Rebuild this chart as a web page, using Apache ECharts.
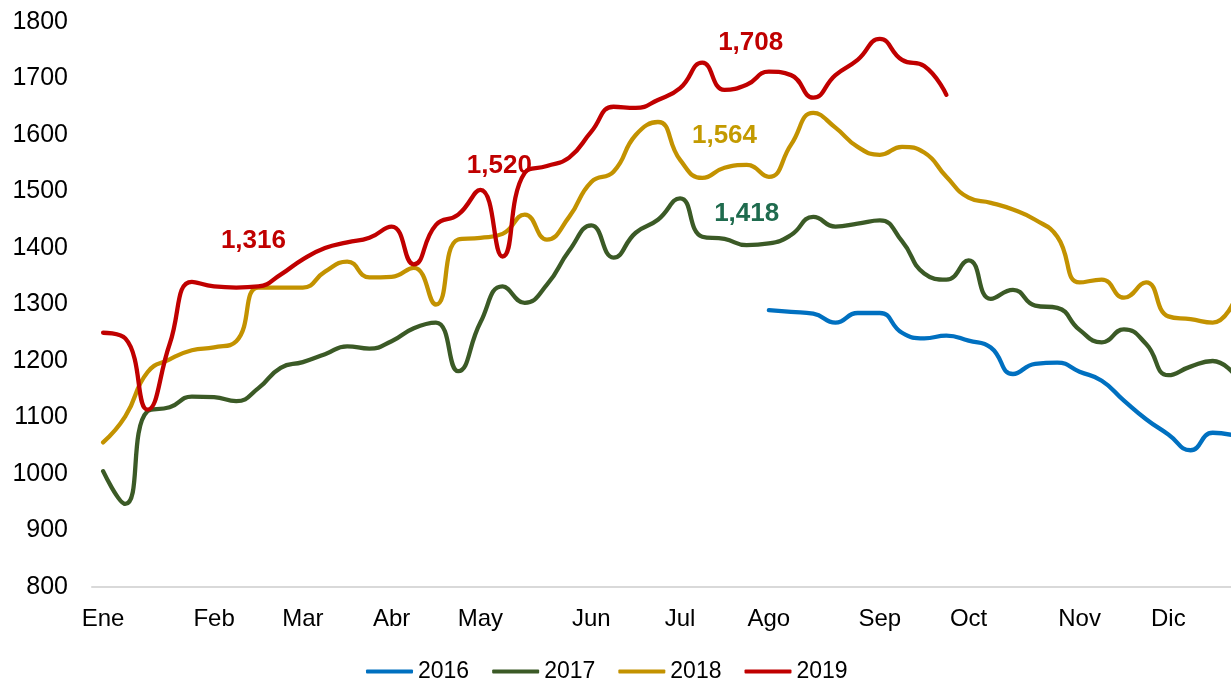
<!DOCTYPE html>
<html>
<head>
<meta charset="utf-8">
<script src="https://cdn.jsdelivr.net/npm/echarts@6/dist/echarts.min.js"></script>
<style>
  html, body { margin: 0; padding: 0; background: #fff; }
  #chart { width: 1231px; height: 681px; }
</style>
</head>
<body>
<div id="chart"></div>
<script>
// weekly categories, month name on the first week of each month
const weeks = [
  'Ene', '', '', '', '', 'Feb', '', '', '', 'Mar', '', '', '', 'Abr', '', '', '', 'May', '', '', '', '',
  'Jun', '', '', '', 'Jul', '', '', '', 'Ago', '', '', '', '', 'Sep', '', '', '', 'Oct', '', '', '', '',
  'Nov', '', '', '', 'Dic', '', '', ''
]

const y2016 = [
  null, null, null, null, null, null, null, null, null, null, null, null, null, null, null, null, null, null,
  null, null, null, null, null, null, null, null, null, null, null, null,
  1290, 1287, 1284, 1268, 1285, 1285, 1250, 1240, 1245, 1236, 1224, 1177, 1195, 1197, 1181, 1165, 1130,
  1097, 1070, 1042, 1073, 1068
]
const y2017 = [
  1005, 947, 1111, 1118, 1137, 1136, 1129, 1152, 1188, 1198, 1212, 1226, 1222, 1235, 1258, 1268, 1182,
  1268, 1332, 1303, 1335, 1395, 1440, 1383, 1427, 1450, 1488, 1420, 1416, 1405, 1408, 1423, 1455, 1438,
  1443, 1449, 1412, 1355, 1344, 1378, 1310, 1326, 1298, 1294, 1255, 1233, 1256, 1230, 1175, 1190, 1200, 1175
]
const y2018 = [
  1056, 1102, 1180, 1203, 1219, 1224, 1235, 1330, 1330, 1330, 1358, 1376, 1348, 1349, 1365, 1300, 1415,
  1418, 1425, 1459, 1415, 1455, 1517, 1535, 1600, 1623, 1556, 1524, 1542, 1547, 1526, 1583, 1639, 1613,
  1579, 1565, 1579, 1569, 1526, 1489, 1480, 1468, 1450, 1420, 1339, 1344, 1312, 1339, 1279, 1274, 1268, 1309
]
const y2019 = [
  1250, 1240, 1114, 1230, 1340, 1332, 1330, 1332, 1353, 1380, 1400, 1410, 1418, 1438, 1371, 1441, 1459,
  1503, 1385, 1533, 1545, 1560, 1606, 1650, 1648, 1662, 1683, 1728, 1680, 1689, 1712, 1706, 1666, 1706,
  1733, 1770, 1733, 1722, 1671
]

// annotations: [week index, text, offset]
const notes2017 = [[29, '1,418', [0, -31]]]
const notes2018 = [[28, '1,564', [0, -32]]]
const notes2019 = [[7, '1,316', [-5, -46]], [17, '1,520', [19, -24]], [29, '1,708', [4, -42]]]

const FONT = 'Liberation Sans, Arial, sans-serif'

function withNotes(values, notes, color) {
  return values.map((v, i) => {
    const n = notes.find(x => x[0] === i)
    if (!n) return v
    return {
      value: v,
      label: {
        show: true,
        position: 'inside',
        offset: n[2],
        formatter: () => n[1],
        color: color,
        fontFamily: FONT,
        fontSize: 26,
        fontWeight: 'bold',
      },
    }
  })
}

function lineSeries(name, data, color) {
  return {
    name,
    type: 'line',
    data,
    smooth: 0.5,
    symbol: 'circle',
    symbolSize: 0,
    showSymbol: true,
    connectNulls: false,
    lineStyle: { color, width: 4.3, cap: 'round', join: 'round' },
    itemStyle: { color },
    emphasis: { disabled: true },
  }
}

const chart = echarts.init(document.getElementById('chart'))
chart.setOption({
  animation: false,
  backgroundColor: '#fff',
  // plot runs past the right edge of the picture, as in the source
  grid: { left: 92, width: 1154, top: 22, bottom: 94, containLabel: false, outerBoundsMode: 'none' },
  legend: {
    left: 366,
    top: 660,
    padding: 0,
    icon: 'roundRect',
    itemWidth: 47,
    itemHeight: 4,
    itemGap: 23,
    textStyle: { fontFamily: FONT, fontSize: 23, color: '#000' },
    data: ['2016', '2017', '2018', '2019'],
  },
  xAxis: {
    type: 'category',
    data: weeks,
    boundaryGap: true,
    axisLine: { lineStyle: { color: '#d9d9d9', width: 2 } },
    axisTick: { show: false },
    axisLabel: { interval: 0, margin: 20, fontFamily: FONT, fontSize: 24, color: '#000' },
    splitLine: { show: false },
  },
  yAxis: {
    type: 'value',
    min: 800,
    max: 1800,
    interval: 100,
    axisLine: { show: false },
    axisTick: { show: false },
    splitLine: { show: false },
    axisLabel: { margin: 24, fontFamily: FONT, fontSize: 25, color: '#000', formatter: v => String(v) },
  },
  series: [
    lineSeries('2016', y2016, '#0070c0'),
    lineSeries('2017', withNotes(y2017, notes2017, '#1f6b4e'), '#3b5a26'),
    lineSeries('2018', withNotes(y2018, notes2018, '#c39a00'), '#c39200'),
    lineSeries('2019', withNotes(y2019, notes2019, '#c00000'), '#c00000'),
  ],
})
</script>
</body>
</html>
